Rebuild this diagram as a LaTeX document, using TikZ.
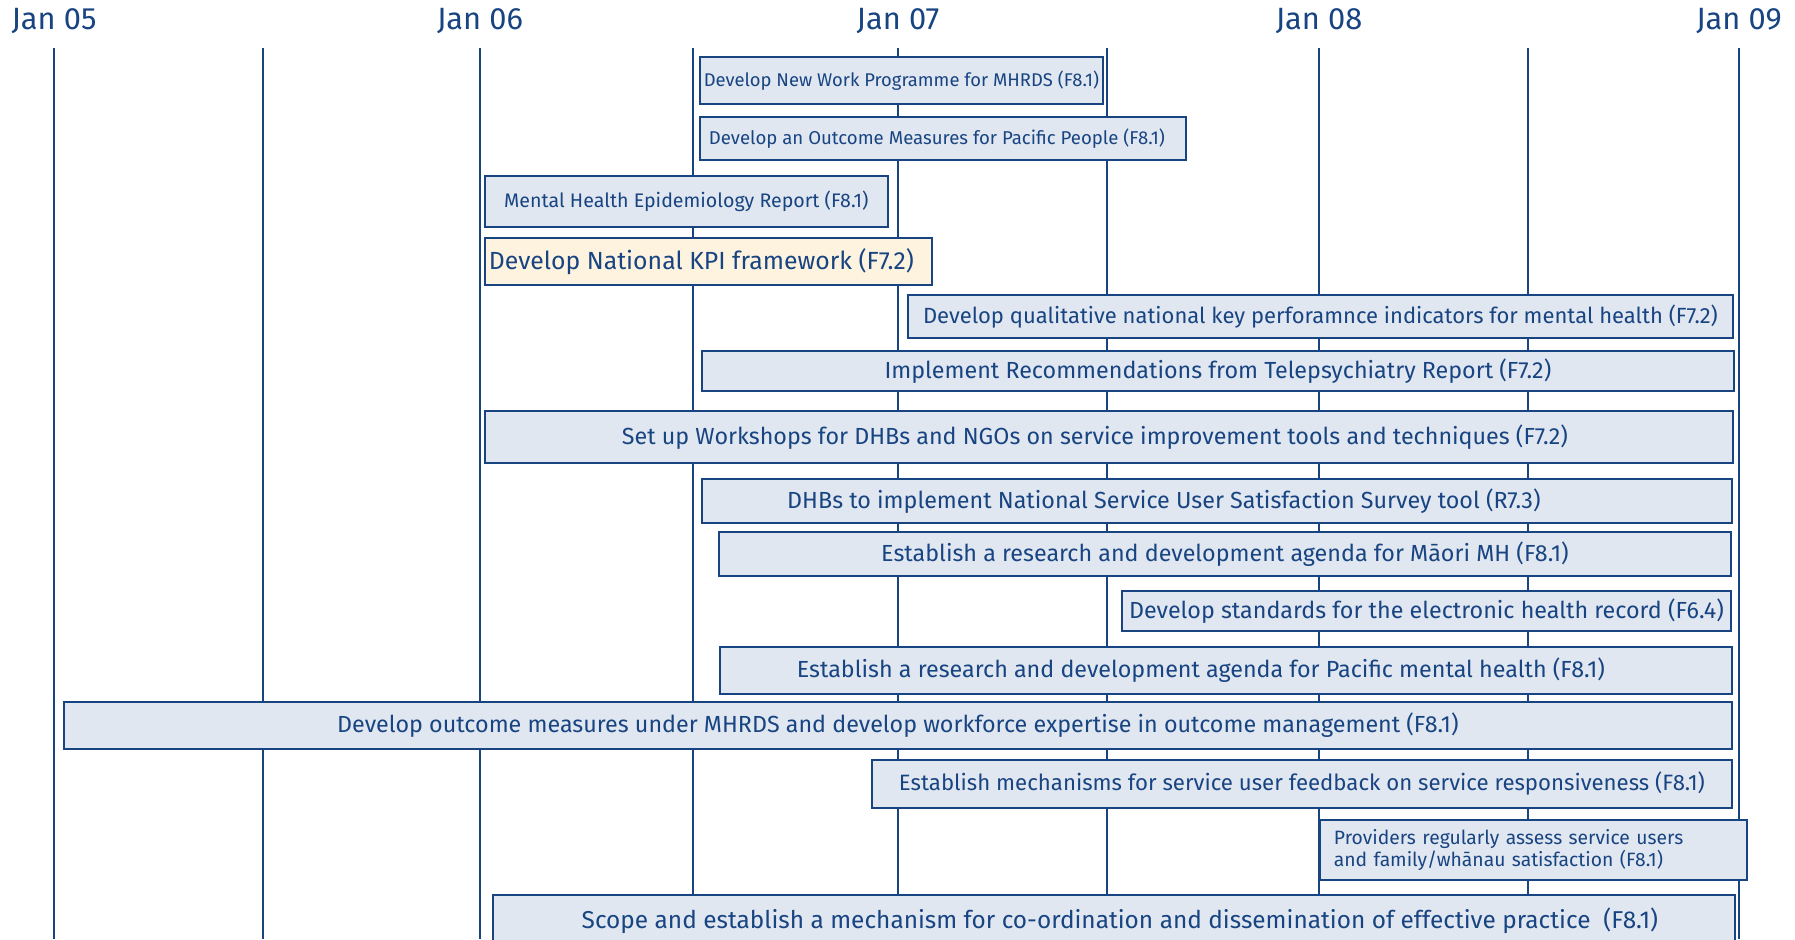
\documentclass[tikz,border=0pt]{standalone}
\usepackage{fontspec}
\setmainfont{Fira Sans}
\usetikzlibrary{positioning}

\definecolor{navy}{RGB}{24,68,130}
\definecolor{barfill}{RGB}{224,231,240}
\definecolor{kpifill}{RGB}{253,243,223}

\begin{document}
\begin{tikzpicture}[
    x=0.5pt, y=-0.5pt,
    every node/.style={text=navy},
    datelabel/.style={font=\fontsize{15.4}{18}\selectfont},
    gridline/.style={draw=navy, line width=1.25pt},
    bar/.style={draw=navy, line width=0.9pt, fill=barfill, anchor=north west, inner sep=0pt, font=\fontsize{11.65}{14}\selectfont},
    smallbar/.style={bar, font=\fontsize{9.2}{11}\selectfont},
    kpibar/.style={bar, fill=kpifill, font=\fontsize{12.4}{14}\selectfont},
    notebar/.style={bar, align=left, inner xsep=7pt, text width=199.5pt, font=\fontsize{9.65}{9.7}\selectfont}
]
\clip (0,0) rectangle (1795,939);
\fill[white] (0,0) rectangle (1795,939);
% half-year grid
\foreach \x in {54,263,480,693,898,1107,1319,1528,1739}
    \draw[gridline] (\x,48) -- (\x,939);
\node[datelabel] (jan05) at (54,21) {Jan 05};
\node[datelabel] (jan06) at (480,21) {Jan 06};
\node[datelabel] (jan07) at (898,21) {Jan 07};
\node[datelabel] (jan08) at (1319,21) {Jan 08};
\node[datelabel] (jan09) at (1739,21) {Jan 09};
% tasks
\node[smallbar, minimum width=201.5pt, minimum height=23.5pt] (workprog) at (699,56) {Develop New Work Programme for MHRDS (F8.1)};
\node[smallbar, minimum width=243pt, minimum height=21.5pt, font=\fontsize{9.3}{11}\selectfont] (pacmeasures) at (699,116) {Develop an Outcome Measures for Pacific People (F8.1)\kern6pt};
\node[smallbar, minimum width=201.5pt, minimum height=25.5pt, font=\fontsize{9.8}{11}\selectfont] (epireport) at (484,175) {Mental Health Epidemiology Report (F8.1)};
\node[kpibar, minimum width=223.5pt, minimum height=23.5pt] (kpiframe) at (484,237) {Develop National KPI framework (F7.2)\kern7pt};
\node[bar, minimum width=412.5pt, minimum height=21.5pt, font=\fontsize{11}{13}\selectfont] (qualkpi) at (907,294) {Develop qualitative national key perforamnce indicators for mental health (F7.2)};
\node[bar, minimum width=516pt, minimum height=20pt] (telepsych) at (701,350) {Implement Recommendations from Telepsychiatry Report (F7.2)};
\node[bar, minimum width=624pt, minimum height=26pt] (workshops) at (484,410) {Set up Workshops for DHBs and NGOs on service improvement tools and techniques (F7.2)\kern14pt};
\node[bar, minimum width=515pt, minimum height=22pt] (survey) at (701,478) {DHBs to implement National Service User Satisfaction Survey tool (R7.3)\kern53pt};
\node[bar, minimum width=506pt, minimum height=22pt] (maorird) at (718,531) {Establish a research and development agenda for Māori MH (F8.1)};
\node[bar, minimum width=304.5pt, minimum height=20pt] (ehr) at (1121,590) {Develop standards for the electronic health record (F6.4)};
\node[bar, minimum width=506pt, minimum height=23.5pt] (pacrd) at (719,646) {Establish a research and development agenda for Pacific mental health (F8.1)\kern25pt};
\node[bar, minimum width=834pt, minimum height=23.5pt] (outcomes) at (63,701) {Develop outcome measures under MHRDS and develop workforce expertise in outcome management (F8.1)};
\node[bar, minimum width=430pt, minimum height=24pt, font=\fontsize{11.1}{13}\selectfont] (feedback) at (871,759) {Establish mechanisms for service user feedback on service responsiveness (F8.1)};
\node[notebar, minimum height=30pt] (providers) at (1319,819) {Providers regularly assess service users\\and family/whānau satisfaction (F8.1)};
\node[bar, minimum width=621pt, minimum height=26pt, font=\fontsize{12.2}{14}\selectfont] (practice) at (492,894) {\kern6pt Scope and establish a mechanism for co-ordination and dissemination of effective practice\ \ (F8.1)};
\end{tikzpicture}
\end{document}
